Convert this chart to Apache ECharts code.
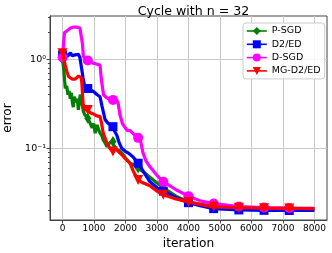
<!DOCTYPE html>
<html><head><meta charset="utf-8">
<script src="https://cdn.jsdelivr.net/npm/echarts@6/dist/echarts.min.js"></script>
<style>html,body{margin:0;padding:0;background:#fff}#c{width:332px;height:253px}</style>
</head><body><div id="c"></div>
<script>
const seriesNames = ['P-SGD', 'D2/ED', 'D-SGD', 'MG-D2/ED'];
const xTicks = [0, 1000, 2000, 3000, 4000, 5000, 6000, 7000, 8000];
const yMajorTicks = [0.1, 1];
const yMinorTicks = [0.02,0.03,0.04,0.05,0.06,0.07,0.08,0.09,0.2,0.3,0.4,0.5,0.6,0.7,0.8,0.9,2,3];

const iterPSGD = [0,40,85,130,170,210,245,280,310,340,370,400,430,470,500,530,560,590,620,660,700,750,800,850,900,940,990,1035,1070,1100,1150,1190,1240,1290,1350,1410,1460,1510,1560,1600,1650,1730,1800,1890,2000,2140,2280,2400,2600,2880,3200,3600,4000,4400,4800,5600,6400,7200,8000];
const errPSGD  = [1.0,0.75,0.47,0.50,0.40,0.44,0.36,0.42,0.33,0.29,0.38,0.40,0.33,0.36,0.27,0.33,0.40,0.36,0.35,0.26,0.24,0.25,0.217,0.20,0.19,0.17,0.19,0.148,0.17,0.183,0.16,0.148,0.14,0.124,0.115,0.104,0.112,0.109,0.12,0.119,0.105,0.096,0.095,0.088,0.078,0.068,0.065,0.060,0.053,0.044,0.036,0.029,0.025,0.0235,0.0225,0.0215,0.0211,0.0208,0.0207];

const iterD2ED = [0,50,100,150,200,250,300,350,400,450,500,550,600,650,700,800,900,1000,1100,1190,1250,1350,1450,1560,1600,1720,1800,1880,2000,2080,2240,2400,2500,2775,3090,3200,3600,4000,4400,4800,5600,6400,7200,8000];
const errD2ED  = [1.12,1.05,1.15,1.08,1.13,1.18,1.10,1.06,1.12,1.08,1.14,1.05,1.0,0.62,0.50,0.47,0.45,0.43,0.40,0.38,0.30,0.21,0.19,0.178,0.175,0.141,0.115,0.100,0.092,0.089,0.080,0.068,0.060,0.042,0.034,0.033,0.028,0.0245,0.0225,0.021,0.0203,0.0201,0.0200,0.0200];

const iterDSGD = [0,30,60,100,150,200,250,300,350,400,450,500,550,600,630,660,700,800,900,1000,1100,1190,1230,1300,1400,1500,1600,1700,1760,1820,1900,2040,2145,2300,2400,2480,2550,2650,2775,2990,3200,3400,3620,4000,4400,4800,5600,6400,7200,8000];
const errDSGD  = [1.05,1.5,2.0,2.08,2.1,2.2,2.25,2.2,2.3,2.35,2.3,2.3,2.25,2.2,1.5,1.08,1.02,0.97,0.92,0.90,0.88,0.86,0.6,0.40,0.37,0.355,0.35,0.35,0.33,0.24,0.19,0.16,0.158,0.14,0.131,0.12,0.09,0.072,0.062,0.050,0.042,0.038,0.034,0.029,0.0255,0.024,0.0222,0.0216,0.0213,0.0212];

const iterMG = [0,40,85,140,190,250,300,350,400,450,510,560,590,610,650,700,800,880,960,1035,1110,1190,1240,1290,1350,1410,1500,1600,1680,1730,1800,1890,2000,2140,2250,2400,2550,2775,3000,3200,3600,4000,4400,4800,5600,6400,7200,8000];
const errMG  = [1.17,1.0,0.86,0.72,0.64,0.62,0.60,0.61,0.60,0.62,0.65,0.68,0.62,0.55,0.32,0.27,0.27,0.25,0.245,0.237,0.23,0.227,0.19,0.148,0.13,0.114,0.10,0.092,0.10,0.10,0.09,0.084,0.076,0.068,0.055,0.044,0.041,0.038,0.033,0.030,0.027,0.025,0.0232,0.022,0.0215,0.0212,0.0211,0.0210];

const markEvery = 800, lastMark = 7200;
function zip(xs, ys){ return xs.map((x,i)=>[x, ys[i]]); }
function sizeFn(s){ return function(v){ return (v[0] % markEvery === 0 && v[0] <= lastMark) ? s : 0; }; }

const colors = ['#008000', '#0000ff', '#ff00ff', '#ff0000'];
const symbols = ['diamond', 'rect', 'circle', 'triangle'];
const sizes = [[7,11], 9, 10, 10];
const rotates = [0, 0, 0, 180];
const datas = [zip(iterPSGD, errPSGD), zip(iterD2ED, errD2ED), zip(iterDSGD, errDSGD), zip(iterMG, errMG)];

const supMap = {'0':'\u2070','1':'\u00b9','-':'\u207b'};
function logLabel(v){
  const e = Math.log10(v);
  if (Math.abs(e - Math.round(e)) > 1e-6) return '';
  return '10' + String(Math.round(e)).split('').map(c=>supMap[c]||c).join('');
}

const chart = echarts.init(document.getElementById('c'), null, {renderer:'canvas'});
const font = 'DejaVu Sans';
chart.setOption({
  animation: false,
  backgroundColor: '#fff',
  textStyle: {fontFamily: font},
  title: {text: 'Cycle with n = 32', left: 188.5, top: 0, textAlign: 'center',
    textStyle: {fontFamily: font, fontSize: 12.6, fontWeight: 'normal', color: '#000'}},
  grid: {left: 50, right: 5, top: 16, bottom: 33, outerBoundsMode: 'none', containLabel: false,
    show: true, borderColor: '#444', borderWidth: 1, backgroundColor: '#fff'},
  legend: {
    orient: 'vertical', left: 243, top: 23, padding: [3, 4, 3, 3], itemGap: 3.3,
    itemWidth: 20, itemHeight: 10,
    backgroundColor: 'rgba(255,255,255,0.85)', borderColor: '#ccc', borderWidth: 1, borderRadius: 3,
    textStyle: {fontFamily: font, fontSize: 9.5, color: '#000'},
    lineStyle: {width: 1.6},
    data: seriesNames
  },
  xAxis: {
    type: 'value', min: -400, max: 8400,
    name: 'iteration', nameLocation: 'middle', nameGap: 15,
    nameTextStyle: {fontFamily: font, fontSize: 12.2, color: '#000'},
    axisLine: {show: true, onZero: false, lineStyle: {color: '#444', width: 1}},
    axisTick: {show: true, length: 3.5, customValues: xTicks, lineStyle: {color: '#444'}},
    axisLabel: {customValues: xTicks, formatter: v => String(v), fontFamily: font, fontSize: 9, color: '#000', margin: 4},
    splitLine: {show: true, lineStyle: {color: '#c8c8c8', width: 1}}
  },
  yAxis: [{
    type: 'log', logBase: 10, min: 0.01565, max: 3.066,
    name: 'error', nameLocation: 'middle', nameGap: 31, nameRotate: 90,
    nameTextStyle: {fontFamily: font, fontSize: 12.2, color: '#000'},
    axisLine: {show: true, onZero: false, lineStyle: {color: '#444', width: 1}},
    axisTick: {show: true, length: 3.5, customValues: yMajorTicks, lineStyle: {color: '#444'}},
    axisLabel: {customValues: yMajorTicks, formatter: logLabel, fontFamily: font, fontSize: 9.5, color: '#000', margin: 4},
    splitLine: {show: true, lineStyle: {color: '#c8c8c8', width: 1}}
  }, {
    type: 'log', logBase: 10, min: 0.01565, max: 3.066, position: 'left',
    axisLine: {show: false, onZero: false},
    axisTick: {show: true, length: 2, customValues: yMinorTicks, lineStyle: {color: '#444'}},
    axisLabel: {show: false},
    splitLine: {show: false}
  }],
  series: seriesNames.map((n, i) => ({
    name: n, type: 'line', data: datas[i],
    symbol: symbols[i], symbolSize: sizeFn(sizes[i]), symbolRotate: rotates[i],
    showSymbol: true, showAllSymbol: true, smooth: false,
    lineStyle: {color: colors[i], width: 3.2},
    itemStyle: {color: colors[i]},
    color: colors[i], z: 2 + i
  }))
});
</script></body></html>
